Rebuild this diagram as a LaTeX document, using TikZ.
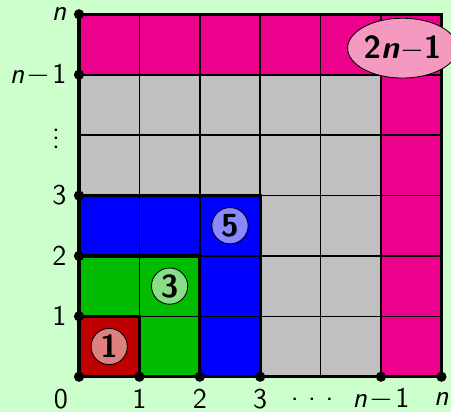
\documentclass[tikz,border=0pt]{standalone}
\usetikzlibrary{shapes.geometric}
\renewcommand\familydefault{\sfdefault}
\begin{document}
\begin{tikzpicture}[x=1cm,y=1cm,
  thinline/.style={line width=0.75pt},
  midline/.style={line width=1.1pt},
  thickline/.style={line width=1.5pt},
  gdot/.style={circle,fill=black,inner sep=0pt,minimum size=0.17cm},
  axlab/.style={font=\fontsize{13.5}{15}\selectfont,inner sep=0pt},
  numc/.style={circle,draw=black,line width=0.4pt,minimum size=0.6cm,inner sep=0pt,font=\fontsize{15}{17}\selectfont\bfseries}]
\definecolor{bg}{RGB}{204,255,204}
\definecolor{mag}{RGB}{236,0,140}
\definecolor{gry}{RGB}{192,192,192}
\definecolor{blu}{RGB}{0,0,255}
\definecolor{grn}{RGB}{0,187,0}
\definecolor{rd}{RGB}{190,0,0}
\definecolor{lrd}{RGB}{222,128,128}
\definecolor{lgrn}{RGB}{136,221,136}
\definecolor{lblu}{RGB}{136,136,255}
\definecolor{pnk}{RGB}{244,154,193}
\fill[bg] (-1.308,-0.584) rectangle (6.159,6.237);
\useasboundingbox (-1.308,-0.584) rectangle (6.159,6.237);
% regions
\fill[mag] (0,0) rectangle (6,6);
\fill[gry] (0,0) rectangle (5,5);
\fill[blu] (0,0) rectangle (3,3);
\fill[grn] (0,0) rectangle (2,2);
\fill[rd] (0,0) rectangle (1,1);
% grid
\draw[thinline] (0,0) grid (6,6);
\draw[midline] (0,0) rectangle (5,5);
\draw[thickline] (0,0) rectangle (3,3);
\draw[thickline] (0,0) rectangle (2,2);
\draw[thickline] (0,0) rectangle (1,1);
\draw[thickline] (0,0) rectangle (6,6);
% dots
\foreach \p/\n in {0/y0,1/y1,2/y2,3/y3,5/y5,6/y6} \node[gdot] (\n) at (0,\p) {};
\foreach \p/\n in {1/x1,2/x2,3/x3,5/x5,6/x6} \node[gdot] (\n) at (\p,0) {};
% labels
\node[axlab,anchor=east] (ly1) at (-0.2,1) {1};
\node[axlab,anchor=east] (ly2) at (-0.2,2) {2};
\node[axlab,anchor=east] (ly3) at (-0.2,3) {3};
\node[axlab] (lyd) at (-0.38,4.05) {$\vdots$};
\node[axlab,anchor=east] (ly5) at (-0.2,5) {\textit{n}\kern1pt$-$\kern1pt1};
\node[axlab,anchor=east] (ly6) at (-0.2,6) {\textit{n}};
\node[axlab] (lx0) at (-0.3,-0.37) {0};
\node[axlab] (lx1) at (1,-0.37) {1};
\node[axlab] (lx2) at (2,-0.37) {2};
\node[axlab] (lx3) at (3,-0.37) {3};
\node[axlab] (lxd) at (3.86,-0.38) {.\hspace{4.5pt}.\hspace{4.5pt}.};
\node[axlab] (lx5) at (5,-0.37) {\textit{n}\kern1pt$-$\kern1pt1};
\node[axlab] (lx6) at (6,-0.37) {\textit{n}};
% circled numbers
\node[numc,fill=lrd] (c1) at (0.5,0.5) {1};
\node[numc,fill=lgrn] (c3) at (1.5,1.5) {3};
\node[numc,fill=lblu] (c5) at (2.5,2.5) {5};
\node[numc,ellipse,fill=pnk,minimum width=1.41cm,minimum height=0.99cm,inner sep=0pt] (c7) at (5.356,5.44) {2\textit{n}$-$1};
\end{tikzpicture}
\end{document}
